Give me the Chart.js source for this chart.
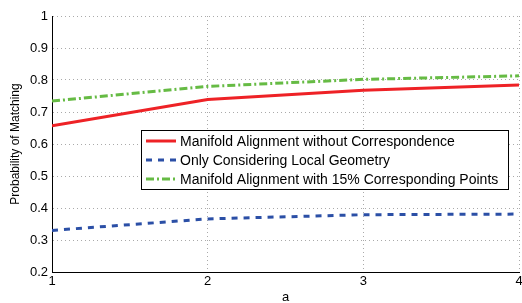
<!DOCTYPE html>
<html>
<head>
  <title>Probability of Matching</title>
  <style>
    body {
      margin: 0;
      padding: 0;
      background-color: #fff;
    }
    .chart-box {
      width: 522px;
      height: 303px;
    }
  </style>
  <script src="https://cdn.jsdelivr.net/npm/chart.js"></script>
</head>
<body>
<div class="chart-box">
  <canvas id="matchChart"></canvas>
</div>

<script>
  // values
  const aValues = [1, 2, 3, 4];
  const withoutCorr = [0.657, 0.739, 0.768, 0.784];
  const localGeometry = [0.330, 0.366, 0.379, 0.381];
  const withCorr15 = [0.734, 0.780, 0.802, 0.813];
  const yTickLabels = ['0.2', '0.3', '0.4', '0.5', '0.6', '0.7', '0.8', '0.9', '1'];

  const labels = [
    'Manifold Alignment without Correspondence',
    'Only Considering Local Geometry',
    'Manifold Alignment with 15% Corresponding Points'
  ];

  function toPoints(ys) {
    return aValues.map((a, i) => ({ x: a, y: ys[i] }));
  }

  // legend box drawn inside the plot, MATLAB style
  const boxLegend = {
    id: 'boxLegend',
    afterDatasetsDraw(chart) {
      const ctx = chart.ctx;
      const left = 141, top = 130, w = 367, h = 59;
      ctx.save();
      ctx.fillStyle = '#fff';
      ctx.fillRect(left, top, w, h);
      ctx.strokeStyle = '#000';
      ctx.lineWidth = 1;
      ctx.strokeRect(left + 0.5, top + 0.5, w, h);
      ctx.font = '14px "Liberation Sans", Arial, sans-serif';
      ctx.textBaseline = 'middle';
      chart.data.datasets.forEach((ds, i) => {
        const y = top + 11 + i * 19;
        ctx.strokeStyle = ds.borderColor;
        ctx.lineWidth = ds.borderWidth;
        ctx.setLineDash(ds.borderDash || []);
        ctx.beginPath();
        ctx.moveTo(left + 5, y);
        ctx.lineTo(left + 35, y);
        ctx.stroke();
        ctx.setLineDash([]);
        ctx.fillStyle = '#000';
        ctx.fillText(ds.label, left + 39, y + 1);
      });
      ctx.restore();
    }
  };

  const ctx = document.getElementById('matchChart').getContext('2d');
  new Chart(ctx, {
    type: 'line',
    data: {
      datasets: [
        {
          label: labels[0],
          data: toPoints(withoutCorr),
          borderColor: '#ee2226',
          borderWidth: 3,
          pointRadius: 0
        },
        {
          label: labels[1],
          data: toPoints(localGeometry),
          borderColor: '#2b4fa6',
          borderWidth: 3,
          borderDash: [6, 6],
          pointRadius: 0
        },
        {
          label: labels[2],
          data: toPoints(withCorr15),
          borderColor: '#66bb44',
          borderWidth: 3,
          borderDash: [8, 3, 2, 3],
          pointRadius: 0
        }
      ]
    },
    options: {
      responsive: true,
      maintainAspectRatio: false,
      animation: false,
      layout: { padding: { top: 16, right: 3, left: 0, bottom: 0 } },
      plugins: {
        legend: { display: false },
        tooltip: { enabled: false }
      },
      scales: {
        x: {
          type: 'linear',
          min: 1,
          max: 4,
          ticks: {
            stepSize: 1,
            padding: 2,
            color: '#000',
            font: { family: '"Liberation Sans", Arial', size: 13 }
          },
          grid: { color: '#aaa', drawTicks: false },
          border: { display: true, color: '#000', width: 1, dash: [1, 3] },
          title: {
            display: true,
            text: 'a',
            color: '#000',
            padding: { top: 0, bottom: -2 },
            font: { family: '"Liberation Sans", Arial', size: 13 }
          },
          afterFit(scale) {
            scale.height = 31;
            scale.paddingLeft = 0;
            scale.paddingRight = 0;
          }
        },
        y: {
          min: 0.2,
          max: 1,
          ticks: {
            stepSize: 0.1,
            padding: 4,
            color: '#000',
            font: { family: '"Liberation Sans", Arial', size: 13 },
            callback: (v, i) => yTickLabels[i]
          },
          grid: { color: '#aaa', drawTicks: false },
          border: { display: true, color: '#000', width: 1, dash: [1, 3] },
          title: {
            display: true,
            text: 'Probability of Matching',
            color: '#000',
            padding: { top: 8, bottom: 0 },
            font: { family: '"Liberation Sans", Arial', size: 12 }
          },
          afterFit(scale) { scale.width = 52; }
        }
      }
    },
    plugins: [boxLegend]
  });
</script>
</body>
</html>
